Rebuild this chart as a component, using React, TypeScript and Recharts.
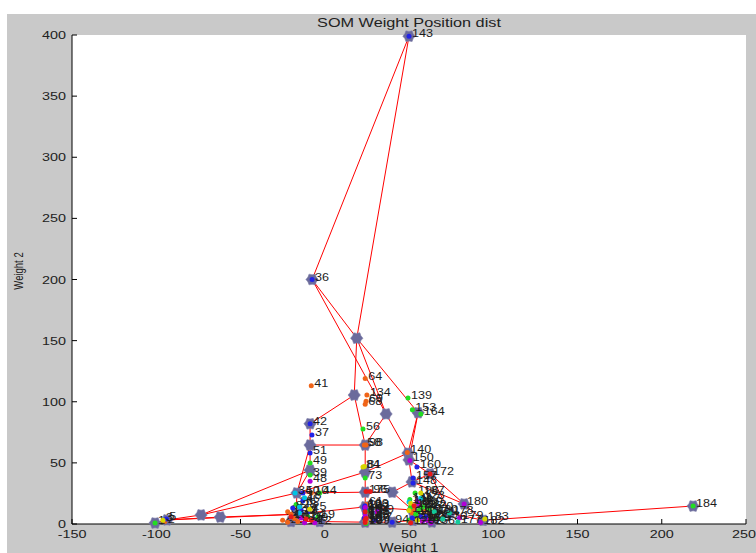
import React from 'react';
import { ScatterChart, Scatter, XAxis, YAxis, CartesianGrid } from 'recharts';

type Pt = { x: number; y: number; id?: number };

const xTicks = [-150, -100, -50, 0, 50, 100, 150, 200, 250];
const yTicks = [0, 50, 100, 150, 200, 250, 300, 350, 400];

// SOM neuron weight positions (Weight 1, Weight 2)
const neurons: Pt[] = [
  { x: 50, y: 399 },
  { x: -7.5, y: 200 },
  { x: 19, y: 152 },
  { x: 17.5, y: 105.5 },
  { x: 36.4, y: 90 },
  { x: 24, y: 64.6 },
  { x: -8.7, y: 82 },
  { x: -8.7, y: 64.6 },
  { x: 55.4, y: 91 },
  { x: 49.4, y: 58 },
  { x: 50, y: 52.4 },
  { x: 24, y: 42.5 },
  { x: -8.7, y: 44 },
  { x: -16.5, y: 25.4 },
  { x: 24, y: 26 },
  { x: 40, y: 26 },
  { x: 51.8, y: 34.4 },
  { x: 62.5, y: 41 },
  { x: 82.7, y: 16.4 },
  { x: 94, y: 3 },
  { x: 218.6, y: 14.7 },
  { x: -93.6, y: 3.3 },
  { x: -100.7, y: 0.8 },
  { x: -73.4, y: 7.4 },
  { x: -62, y: 5.7 },
  { x: -17, y: 8 },
  { x: -3, y: 2 },
  { x: 24, y: 14 },
  { x: 24, y: 1.5 },
  { x: 40, y: 1.5 },
  { x: 52, y: 11.5 },
  { x: 52.4, y: 3 },
  { x: 63.6, y: 1.6 },
  { x: 74.3, y: 9 },
  { x: -20, y: 2 },
];

// neighbour links (neuron index pairs)
const links: [number, number][] = [
  [0, 1], [0, 2], [1, 2], [1, 4], [2, 3], [2, 4], [2, 8],
  [3, 6], [3, 5], [4, 5], [4, 9], [8, 9], [8, 10],
  [6, 7], [7, 5], [7, 12], [7, 13], [5, 11], [11, 9], [11, 14],
  [12, 13], [13, 11], [13, 14],
  [14, 15], [15, 16], [16, 10], [10, 9], [10, 17], [16, 17],
  [17, 18], [18, 19], [19, 20], [16, 18],
  [15, 30], [14, 27], [27, 28], [28, 29], [29, 31], [30, 31], [31, 32], [32, 33], [33, 19], [30, 33], [17, 33],
  [13, 25], [25, 26], [25, 27], [26, 28], [34, 26], [34, 25], [27, 30],
  [22, 21], [21, 23], [23, 13], [21, 24], [24, 25], [23, 12], [21, 25],
];

// input samples, one list per class
const orangeSamples: Pt[] = [
  { x: -8, y: 113, id: 41 }, { x: 24, y: 119, id: 64 }, { x: 25, y: 105.5, id: 134 },
  { x: 24.5, y: 100.5, id: 69 }, { x: 24, y: 98, id: 68 }, { x: 23.5, y: 64.6, id: 58 },
  { x: 24.5, y: 64.6, id: 98 }, { x: 49, y: 58.5, id: 140 }, { x: -8, y: 25.4, id: 10 },
  { x: -25, y: 3, id: 21 }, { x: -22, y: 1.5, id: 23 }, { x: -18, y: 4.5, id: 27 },
  { x: -20, y: 8, id: 20 }, { x: 52, y: 9, id: 119 }, { x: 63, y: 8, id: 171 },
  { x: -95, y: 2, id: 2 }, { x: 24.5, y: 16, id: 61 }, { x: 24, y: 6, id: 105 },
  { x: 53, y: 12, id: 114 }, { x: 59, y: 10, id: 127 }, { x: -22, y: 10, id: 6 },
  { x: -16, y: 2, id: 7 },
];
const greenSamples: Pt[] = [
  { x: 22.7, y: 77.7, id: 56 }, { x: 49.4, y: 103, id: 139 }, { x: 52, y: 93.5, id: 153 },
  { x: 57, y: 90, id: 164 }, { x: -8.7, y: 50, id: 49 }, { x: -8.7, y: 40, id: 39 },
  { x: 24, y: 37.6, id: 73 }, { x: 218.6, y: 14.7, id: 184 }, { x: 53.6, y: 25.4, id: 196 },
  { x: -100.7, y: 0.8, id: 1 }, { x: -3, y: 25.4, id: 44 }, { x: 51, y: 14, id: 110 },
  { x: 56, y: 11, id: 161 }, { x: 50, y: 3, id: 124 }, { x: 62, y: 12, id: 170 },
  { x: 66, y: 5, id: 173 }, { x: -10, y: 6, id: 24 }, { x: 25, y: 11, id: 88 },
  { x: 24, y: 8, id: 101 }, { x: 24.5, y: 0.5, id: 109 }, { x: 50.5, y: 20, id: 111 },
  { x: 54, y: 8, id: 115 }, { x: 58, y: 14, id: 122 }, { x: -17, y: 16, id: 16 },
  { x: -4, y: 6, id: 19 },
];
const blueSamples: Pt[] = [
  { x: 50, y: 399, id: 143 }, { x: -7.5, y: 200, id: 36 }, { x: -8.7, y: 82, id: 42 },
  { x: -7.6, y: 72.8, id: 37 }, { x: -8.7, y: 58, id: 51 }, { x: 54.7, y: 46.6, id: 160 },
  { x: 52.4, y: 37.6, id: 157 }, { x: 52.4, y: 33.6, id: 148 }, { x: -13, y: 25.4, id: 50 },
  { x: -13, y: 19, id: 46 }, { x: -14, y: 11, id: 17 }, { x: 23.5, y: 13.5, id: 62 },
  { x: 23.8, y: 9, id: 63 }, { x: 23.5, y: 5, id: 66 }, { x: 57, y: 6, id: 165 },
  { x: -94, y: 4, id: 5 }, { x: 40, y: 1.5, id: 94 }, { x: 23.8, y: 15, id: 100 },
  { x: 24, y: 12, id: 102 }, { x: 52, y: 5, id: 116 }, { x: 60, y: 6, id: 128 },
  { x: -19, y: 13, id: 8 }, { x: -10, y: 10, id: 9 }, { x: 30, y: 3, id: 97 },
];
const purpleSamples: Pt[] = [
  { x: 50.5, y: 52, id: 150 }, { x: -8.7, y: 35, id: 48 }, { x: 82.7, y: 16.4, id: 180 },
  { x: -12, y: 1, id: 14 }, { x: 63, y: 0.8, id: 166 }, { x: 92.5, y: 1.2, id: 182 },
  { x: 56, y: 16, id: 159 }, { x: 58, y: 2, id: 168 }, { x: 24, y: 7, id: 79 },
  { x: 80, y: 5, id: 179 }, { x: 24, y: 13.5, id: 103 }, { x: 55, y: 19, id: 117 },
  { x: 61, y: 3, id: 129 }, { x: -14, y: 5, id: 11 }, { x: -6, y: 1, id: 12 },
  { x: 31, y: 10, id: 99 },
];
const cyanSamples: Pt[] = [
  { x: -17.6, y: 25.4, id: 34 }, { x: -15, y: 14, id: 28 }, { x: 50, y: 18, id: 106 },
  { x: -12, y: 21.5, id: 18 }, { x: 57, y: 21, id: 123 }, { x: -15, y: 9, id: 22 },
];
const tealSamples: Pt[] = [
  { x: 79, y: 1.6, id: 177 }, { x: 70, y: 4, id: 176 }, { x: 74, y: 9, id: 178 },
  { x: 65, y: 10, id: 130 },
];
const yellowSamples: Pt[] = [
  { x: 22.7, y: 46.6, id: 84 }, { x: 23.5, y: 47, id: 81 }, { x: 50, y: 11, id: 113 },
  { x: -96, y: 3, id: 3 }, { x: 24.5, y: 2, id: 92 }, { x: 95, y: 4, id: 183 },
  { x: 57, y: 25.4, id: 187 }, { x: 24, y: 2.5, id: 107 }, { x: 51, y: 17, id: 112 },
  { x: 55, y: 3, id: 118 }, { x: -9, y: 12, id: 25 },
];
const redSamples: Pt[] = [
  { x: 62.5, y: 41, id: 172 }, { x: 24, y: 1.2, id: 70 }, { x: 24, y: 3.5, id: 76 },
  { x: 51, y: 1, id: 126 }, { x: -8, y: 3, id: 29 }, { x: 24.5, y: 26.5, id: 175 },
  { x: 27, y: 26.5, id: 96 }, { x: 24, y: 10, id: 104 }, { x: 24.5, y: 4.5, id: 108 },
  { x: 53, y: 15, id: 120 }, { x: -20, y: 6, id: 13 }, { x: -11, y: 4, id: 15 },
];

const sampleGroups = [
  { data: orangeSamples, color: '#f06418' },
  { data: greenSamples, color: '#22dd22' },
  { data: blueSamples, color: '#2323e6' },
  { data: purpleSamples, color: '#b000d8' },
  { data: cyanSamples, color: '#00c3e3' },
  { data: tealSamples, color: '#13c99a' },
  { data: yellowSamples, color: '#d6d600' },
  { data: redSamples, color: '#e81a1a' },
];

const FONT = "'Liberation Sans', Arial, sans-serif";
const SX = 1.25; // text in the reference is drawn wide

const hexPoints = (cx: number, cy: number) => {
  const pts: string[] = [];
  for (let i = 0; i < 12; i++) {
    const a = (Math.PI / 6) * i;
    const r = i % 2 === 0 ? 6.2 : 4.8;
    pts.push(`${(cx + r * Math.cos(a)).toFixed(2)},${(cy + r * Math.sin(a)).toFixed(2)}`);
  }
  return pts.join(' ');
};

const NeuronMark = (props: any) => (
  <polygon points={hexPoints(props.cx, props.cy)} fill="#6b6b9c" stroke="#8080aa" strokeWidth={0.6} />
);

const sampleShape = (color: string) => (props: any) => {
  const { cx, cy, payload } = props;
  return (
    <g>
      <circle cx={cx} cy={cy} r={2.5} fill={color} />
      <text
        transform={`translate(${cx + 3},${cy + 1}) scale(1.2,1)`}
        fontSize={10.5}
        fontFamily={FONT}
        fill="#1c1c1c"
      >
        {payload.id}
      </text>
    </g>
  );
};

const XTick = (props: any) => {
  const { x, y, payload } = props;
  return (
    <text transform={`translate(${x},${y + 8.5}) scale(${SX},1)`} textAnchor="middle" fontSize={11.5} fontFamily={FONT} fill="#222">
      {payload.value}
    </text>
  );
};

const YTick = (props: any) => {
  const { x, y, payload } = props;
  return (
    <text transform={`translate(${x},${y + 4}) scale(${SX},1)`} textAnchor="end" fontSize={11.5} fontFamily={FONT} fill="#222">
      {payload.value}
    </text>
  );
};

const NoTick = () => <g />;
const NoMark = () => <g />;

export default function App() {
  return (
    <div style={{ position: 'absolute', left: 0, top: 0, width: 756, height: 553, background: '#fff', overflow: 'hidden' }}>
      <div style={{ position: 'absolute', left: 7, top: 14, width: 749, height: 539, background: '#c9c9c9' }} />
      <div style={{ position: 'absolute', left: 0, top: 0 }}>
        <ScatterChart width={756} height={553} margin={{ top: 35, right: 10, bottom: 0, left: 22 }}>
          <CartesianGrid horizontal={false} vertical={false} fill="#ffffff" />
          <XAxis
            xAxisId="b"
            type="number"
            dataKey="x"
            domain={[-150, 250]}
            ticks={xTicks}
            height={29}
            stroke="#000"
            tickSize={-5}
            tickMargin={10}
            tick={<XTick />}
          />
          <XAxis
            xAxisId="t"
            orientation="top"
            type="number"
            dataKey="x"
            domain={[-150, 250]}
            ticks={xTicks}
            height={0}
            stroke="#000"
            tickSize={-5}
            tick={<NoTick />}
          />
          <YAxis
            yAxisId="l"
            type="number"
            dataKey="y"
            domain={[0, 400]}
            ticks={yTicks}
            width={50}
            stroke="#000"
            tickSize={-5}
            tickMargin={11}
            tick={<YTick />}
          />
          <YAxis
            yAxisId="r"
            orientation="right"
            type="number"
            dataKey="y"
            domain={[0, 400]}
            ticks={yTicks}
            width={0}
            stroke="#000"
            tickSize={-5}
            tick={<NoTick />}
          />
          {links.map(([a, b], i) => (
            <Scatter
              key={`link-${i}`}
              xAxisId="b"
              yAxisId="l"
              data={[neurons[a], neurons[b]]}
              line={{ stroke: '#ff0000', strokeWidth: 1 }}
              shape={<NoMark />}
              isAnimationActive={false}
            />
          ))}
          <Scatter xAxisId="b" yAxisId="l" data={neurons} shape={<NeuronMark />} isAnimationActive={false} />
          {sampleGroups.map((g, i) => (
            <Scatter
              key={`grp-${i}`}
              xAxisId="b"
              yAxisId="l"
              data={g.data}
              shape={sampleShape(g.color)}
              isAnimationActive={false}
            />
          ))}
        </ScatterChart>
      </div>
      <svg width={756} height={553} style={{ position: 'absolute', left: 0, top: 0, pointerEvents: 'none' }}>
        <text transform={`translate(409,27) scale(${SX},1)`} textAnchor="middle" fontSize={13} fontFamily={FONT} fill="#222">
          SOM Weight Position dist
        </text>
        <text transform={`translate(409,552) scale(${SX},1)`} textAnchor="middle" fontSize={12} fontFamily={FONT} fill="#222">
          Weight 1
        </text>
        <text transform={`translate(23,271) scale(${SX},1) rotate(-90)`} textAnchor="middle" fontSize={9.5} fontFamily={FONT} fill="#222">
          Weight 2
        </text>
      </svg>
    </div>
  );
}
